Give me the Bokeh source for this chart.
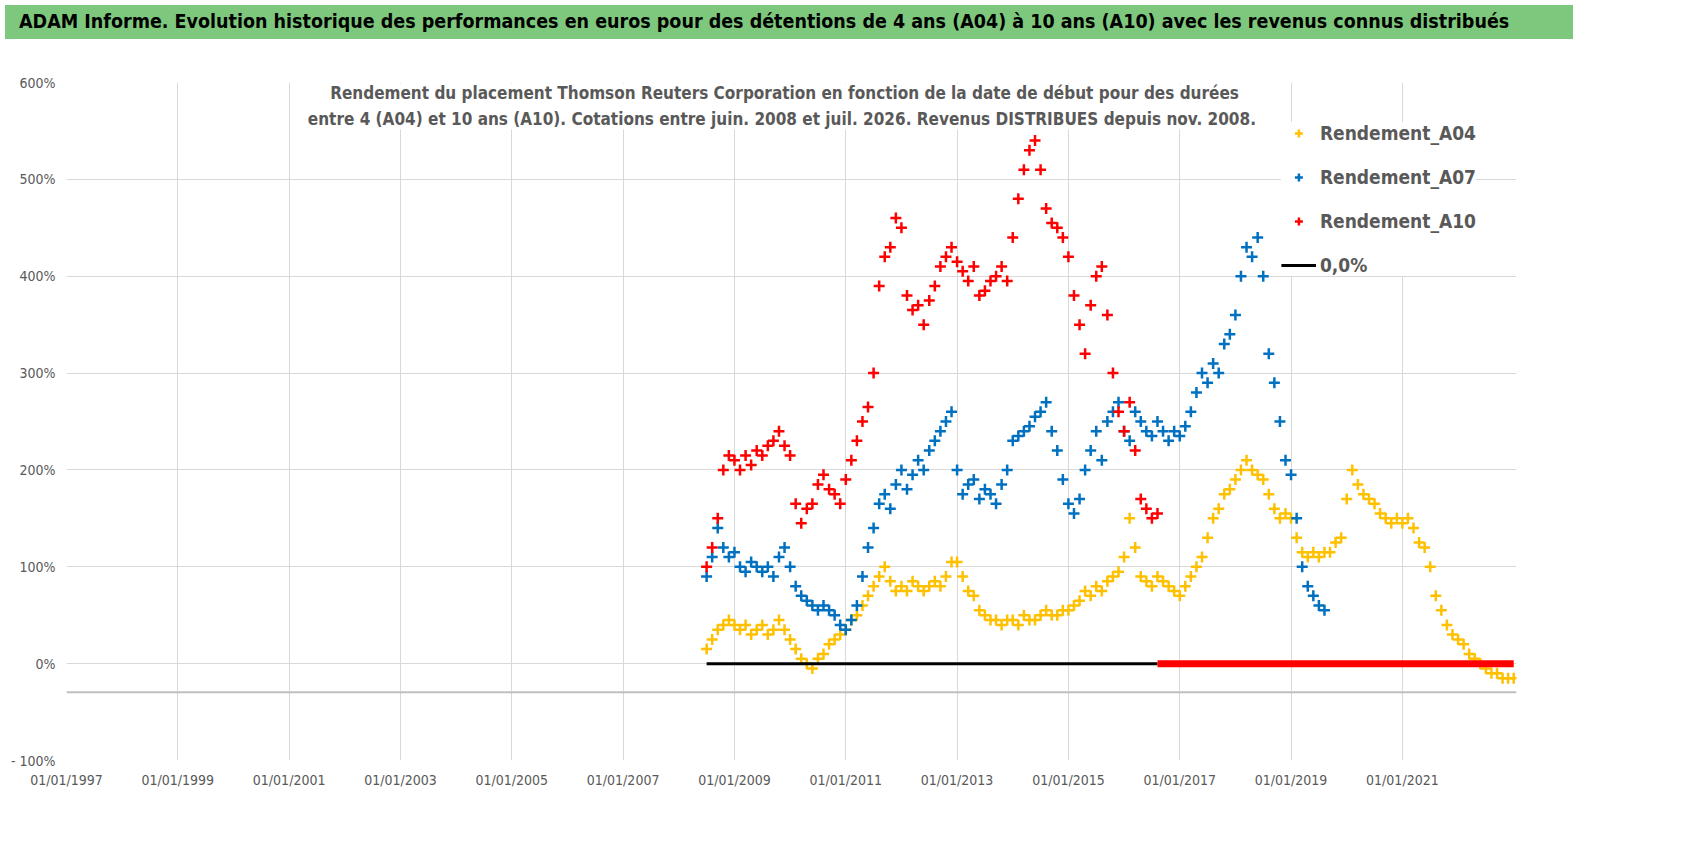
import numpy as np
from bokeh.plotting import figure
from bokeh.layouts import column
from bokeh.models import Label, Span, Legend, LegendItem, FixedTicker, Div
from bokeh.embed import file_html
from bokeh.resources import INLINE

# sampling every 0.1 year, starting dates (decimal years)
step = 0.1
a04_start = 2008.5
a04 = [15, 25, 35, 40, 45, 40, 35, 40, 30, 35, 40, 30, 35, 45, 35, 25, 15, 5, 0, -5,
       5, 10, 20, 25, 30, 35, 45, 50, 60, 70, 80, 90, 100, 85, 75, 80, 75, 85, 80, 75,
       80, 85, 80, 90, 105, 105, 90, 75, 70, 55, 50, 45, 45, 40, 45, 45, 40, 50, 45, 45,
       50, 55, 50, 50, 55, 55, 60, 65, 75, 70, 80, 75, 85, 90, 95, 110, 150, 120, 90, 85,
       80, 90, 85, 80, 75, 70, 80, 90, 100, 110, 130, 150, 160, 175, 180, 190, 200, 210, 200, 195,
       190, 175, 160, 150, 155, 150, 130, 115, 110, 115, 110, 115, 115, 125, 130, 170, 200, 185, 175, 170,
       165, 155, 150, 145, 150, 145, 150, 140, 125, 120, 100, 70, 55, 40, 30, 25, 20, 10, 5, 0,
       -5, -10, -10, -15, -15, -15]
a07_start = 2008.5
a07 = [90, 110, 140, 120, 110, 115, 100, 95, 105, 100, 95, 100, 90, 110, 120, 100, 80, 70, 65, 60,
       55, 60, 55, 50, 40, 35, 45, 60, 90, 120, 140, 165, 175, 160, 185, 200, 180, 195, 210, 200,
       220, 230, 240, 250, 260, 200, 175, 185, 190, 170, 180, 175, 165, 185, 200, 230, 235, 240, 245, 255,
       260, 270, 240, 220, 190, 165, 155, 170, 200, 220, 240, 210, 250, 260, 270, 240, 230, 260, 250, 240,
       235, 250, 240, 230, 240, 235, 245, 260, 280, 300, 290, 310, 300, 330, 340, 360, 400, 430, 420, 440,
       400, 320, 290, 250, 210, 195, 150, 100, 80, 70, 60, 55]
a10_start = 2008.5
a10 = [100, 120, 150, 200, 215, 210, 200, 215, 205, 220, 215, 225, 230, 240, 225, 215, 165, 145, 160, 165,
       185, 195, 180, 175, 165, 190, 210, 230, 250, 265, 300, 390, 420, 430, 460, 450, 380, 365, 370, 350,
       375, 390, 410, 420, 430, 415, 405, 395, 410, 380, 385, 395, 400, 410, 395, 440, 480, 510, 530, 540,
       510, 470, 455, 450, 440, 420, 380, 350, 320, 370, 400, 410, 360, 300, 260, 240, 270, 220, 170, 160,
       150, 155]
zero_black = (2008.5, 2016.6)
zero_red = (2016.6, 2023.0)
year_ticks = list(range(1997, 2023, 2))
pct_ticks = list(range(-100, 601, 100))

YEL, BLU, RED = "#FFC000", "#0070C0", "#FF0000"
FONT = "DejaVu Sans Condensed"

head = Div(text="ADAM Informe. Evolution historique des performances en euros pour des détentions de 4 ans (A04) à 10 ans (A10) avec les revenus connus distribués",
           width=1568, height=34,
           styles={"background-color": "#7DC87D", "font-family": FONT, "font-size": "19.5px",
                   "font-weight": "bold", "color": "black", "padding-left": "14px",
                   "line-height": "34px", "box-sizing": "border-box", "width": "1568px",
                   "white-space": "nowrap", "overflow": "hidden"})

p = figure(width=1568, height=756, x_range=(1997, 2023.05), y_range=(-100, 600),
           output_backend="svg", toolbar_location=None,
           min_border_left=66, min_border_right=52, min_border_top=38, min_border_bottom=40)
p.outline_line_color = None

for ax in (p.xaxis[0], p.yaxis[0]):
    ax.axis_line_color = None
    ax.major_tick_line_color = None
    ax.minor_tick_line_color = None
    ax.major_label_text_color = "#595959"
    ax.major_label_text_font = FONT
    ax.major_label_text_font_size = "14px"
p.xaxis.ticker = FixedTicker(ticks=year_ticks)
p.xaxis.major_label_overrides = {y: "01/01/%d" % y for y in year_ticks}
p.yaxis.ticker = FixedTicker(ticks=pct_ticks)
p.yaxis.major_label_overrides = {v: ("- %d%%" % -v if v < 0 else "%d%%" % v) for v in pct_ticks}
p.xgrid.ticker = FixedTicker(ticks=year_ticks)
p.ygrid.ticker = FixedTicker(ticks=pct_ticks)
p.xgrid.grid_line_color = "#D9D9D9"
p.ygrid.grid_line_color = "#D9D9D9"
p.add_layout(Span(location=-29.5, dimension="width", line_color="#BFBFBF", line_width=2))

def xs(start, vals):
    return start + step * np.arange(len(vals))

r04 = p.scatter(xs(a04_start, a04), a04, marker="cross", size=11, line_width=2.5, color=YEL)
r07 = p.scatter(xs(a07_start, a07), a07, marker="cross", size=11, line_width=2.5, color=BLU)
r10 = p.scatter(xs(a10_start, a10), a10, marker="cross", size=11, line_width=2.5, color=RED)
rz = p.line(list(zero_black), [0, 0], line_color="black", line_width=3)
p.line(list(zero_red), [0, 0], line_color=RED, line_width=7)

p.add_layout(Label(x=2009.9, y=599, text_align="center", text_baseline="top",
                   text="Rendement du placement Thomson Reuters Corporation en fonction de la date de début pour des durées\nentre 4 (A04) et 10 ans (A10).  Cotations entre juin. 2008 et juil. 2026. Revenus DISTRIBUES depuis nov. 2008.",
                   text_font=FONT, text_font_size="17px", text_font_style="bold",
                   text_color="#595959", background_fill_color="white", text_line_height=1.3))

leg = Legend(items=[LegendItem(label="Rendement_A04", renderers=[r04]),
                    LegendItem(label="Rendement_A07", renderers=[r07]),
                    LegendItem(label="Rendement_A10", renderers=[r10]),
                    LegendItem(label="0,0%", renderers=[rz])],
             location="top_right", border_line_color=None, background_fill_alpha=1,
             label_text_font=FONT, label_text_font_size="19px", label_text_font_style="bold",
             label_text_color="#595959", spacing=22, glyph_width=35, margin=40,
             label_standoff=4)
p.add_layout(leg)

open("out.html", "w").write(file_html(column(head, p, spacing=0), INLINE))
